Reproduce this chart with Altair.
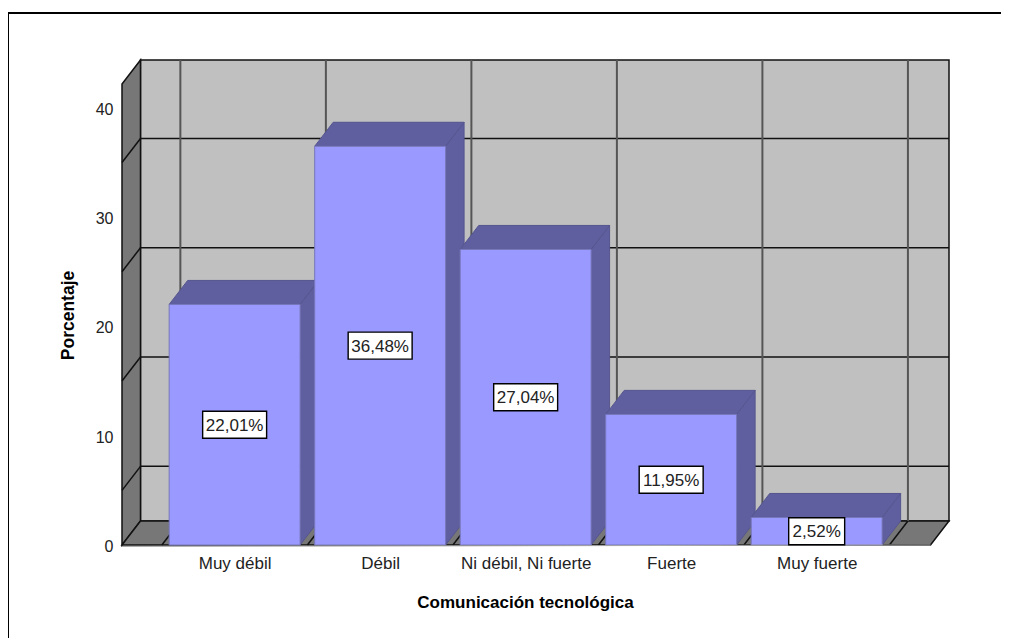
import altair as alt

categories = ["Muy débil", "Débil", "Ni débil, Ni fuerte", "Fuerte", "Muy fuerte"]
values = [22.01, 36.48, 27.04, 11.95, 2.52]
labels = ["22,01%", "36,48%", "27,04%", "11,95%", "2,52%"]
y_ticks = [0, 10, 20, 30, 40]
grid_levels = [5, 15, 25, 35]
grid_positions = [-0.5, 0.5, 1.5, 2.5, 3.5, 4.5]

# Pseudo-3D projection, in data units
PX_X = 145.6      # pixels per category
PX_Y = 10.93      # pixels per percentage point
DX = 18.5 / PX_X  # depth, horizontal
DY = 24 / PX_Y    # depth, vertical
HALF = 65.5 / PX_X
X_MIN = (122 - 234.7) / PX_X
X_FRONT_MAX = (931 - 234.7) / PX_X
X_MAX = X_FRONT_MAX + DX
Y_MAX = 485 / PX_Y
Y_FRONT_MAX = Y_MAX - DY

FONT = "Liberation Sans"
xs = alt.Scale(domain=[X_MIN, X_MAX], nice=False, zero=False)
ys = alt.Scale(domain=[0, Y_MAX], nice=False, zero=False)
AX_X = alt.Axis(title="Comunicación tecnológica", values=list(range(5)), grid=False, domain=False, ticks=False,
                labelExpr="[" + ",".join(f"'{c}'" for c in categories) + "][datum.value]",
                labelFont=FONT, labelFontSize=17, labelColor="#222222", labelPadding=10,
                labelFlush=False, labelOverlap=False,
                titleFont=FONT, titleFontSize=17, titleFontWeight="bold", titleColor="black",
                titleX=403, titleY=57, titleBaseline="middle")
AX_Y = alt.Axis(title="Porcentaje", values=y_ticks, grid=False, domain=False, ticks=False,
                labelFont=FONT, labelFontSize=16, labelColor="#222222", labelPadding=9, labelOffset=1.5,
                titleFont=FONT, titleFontSize=17.5, titleFontWeight="bold", titleColor="black",
                titleX=-54, titleY=255, titleBaseline="middle")
X = lambda f="x": alt.X(f"{f}:Q", scale=xs, axis=AX_X)
Y = lambda f="y": alt.Y(f"{f}:Q", scale=ys, axis=AX_Y, stack=None)

df = lambda rows: alt.Data(values=rows)

# Outer frame: only its top and left edges fall inside the picture
frame = alt.Chart(df([{}])).mark_rect(filled=False, stroke="black", strokeWidth=2).encode(
    x=alt.value(-114), x2=alt.value(920), y=alt.value(-47), y2=alt.value(620))

# Back wall
back = alt.Chart(df([{"x": X_MIN + DX, "x2": X_MAX, "y": DY, "y2": Y_MAX}])).mark_rect(
    fill="#C0C0C0", stroke="#111111", strokeWidth=1.5
).encode(x=X(), x2="x2:Q", y=Y(), y2="y2:Q")

# Left wall
left_wall = alt.Chart(df([
    {"x": X_MIN, "y": 0, "y2": Y_FRONT_MAX},
    {"x": X_MIN + DX, "y": DY, "y2": Y_MAX},
])).mark_area(color="#777777", stroke="#111111", strokeWidth=1.5, orient="vertical").encode(
    x=X(), y=Y(), y2="y2:Q")

# Floor
floor = alt.Chart(df([
    {"y": 0, "x": X_MIN, "x2": X_FRONT_MAX},
    {"y": DY, "x": X_MIN + DX, "x2": X_MAX},
])).mark_area(color="#777777", stroke="#111111", strokeWidth=1.5, orient="horizontal").encode(
    x=X(), x2="x2:Q", y=Y())

# Grid lines
h_rows = [{"x": X_MIN + DX, "x2": X_MAX, "y": v + DY, "y2": v + DY} for v in grid_levels]
d_rows = [{"x": X_MIN, "x2": X_MIN + DX, "y": v, "y2": v + DY} for v in grid_levels]
v_rows = [{"x": p + DX, "x2": p + DX, "y": DY, "y2": Y_MAX} for p in grid_positions]
f_rows = [{"x": p, "x2": p + DX, "y": 0, "y2": DY} for p in grid_positions]
rule = lambda rows, color, w: alt.Chart(df(rows)).mark_rule(color=color, strokeWidth=w).encode(
    x=X(), x2="x2:Q", y=Y(), y2="y2:Q")
grid_h = rule(h_rows, "#111111", 1.5)
grid_d = rule(d_rows, "#111111", 1.5)
grid_v = rule(v_rows, "#555555", 2)
grid_f = rule(f_rows, "#111111", 1.5)

# Bars: sides, then tops, then fronts
side_rows, top_rows, front_rows = [], [], []
for i, v in enumerate(values):
    r = i + HALF
    side_rows += [{"b": i, "x": r, "y": 0, "y2": v}, {"b": i, "x": r + DX, "y": DY, "y2": v + DY}]
    top_rows += [{"b": i, "y": v, "x": i - HALF, "x2": r}, {"b": i, "y": v + DY, "x": i - HALF + DX, "x2": r + DX}]
    front_rows.append({"x": i - HALF, "x2": r, "y": 0, "y2": v})

EDGE = "#55558F"
DARK = "#5F5F9F"
sides = alt.Chart(df(side_rows)).mark_area(color=DARK, stroke=EDGE, strokeWidth=1, orient="vertical").encode(
    x=X(), y=Y(), y2="y2:Q", detail="b:N")
tops = alt.Chart(df(top_rows)).mark_area(color=DARK, stroke=EDGE, strokeWidth=1, orient="horizontal").encode(
    x=X(), x2="x2:Q", y=Y(), detail="b:N")
fronts = alt.Chart(df(front_rows)).mark_rect(fill="#9999FF", stroke="#7777BB", strokeWidth=1).encode(
    x=X(), x2="x2:Q", y=Y(), y2="y2:Q")

# Grey edge under the floor
base = alt.Chart(df([{"x": X_MIN, "x2": X_FRONT_MAX, "y": 0, "y2": 0}])).mark_rule(
    color="#AAAAAA", strokeWidth=1, yOffset=1.5).encode(x=X(), x2="x2:Q", y=Y(), y2="y2:Q")

# Value labels
box_rows, text_rows = [], []
for i, (v, t) in enumerate(zip(values, labels)):
    hw = (28 if len(t) < 6 else 32) / PX_X
    hh = 13.5 / PX_Y
    box_rows.append({"x": i - hw, "x2": i + hw, "y": v / 2 - hh, "y2": v / 2 + hh})
    text_rows.append({"x": i, "y": v / 2, "t": t})
boxes = alt.Chart(df(box_rows)).mark_rect(fill="white", stroke="black", strokeWidth=1.4).encode(
    x=X(), x2="x2:Q", y=Y(), y2="y2:Q")
texts = alt.Chart(df(text_rows)).mark_text(font=FONT, fontSize=17, color="#222222", baseline="middle", dy=1).encode(
    x=X(), y=Y(), text="t:N")

chart = alt.layer(frame, back, left_wall, floor, grid_h, grid_d, grid_v, grid_f,
                  sides, tops, fronts, base, boxes, texts).properties(
    width=827, height=485,
    padding={"left": 114, "top": 52, "right": 52, "bottom": 93},
    autosize=alt.AutoSizeParams(type="none"),
).configure_view(stroke=None)

chart.save("out.html", embed_options={"renderer": "svg", "actions": False})
